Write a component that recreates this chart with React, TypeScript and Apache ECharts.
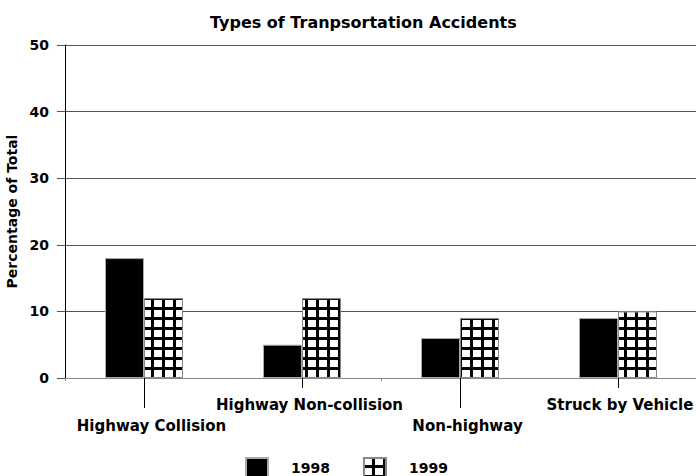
import React, { useEffect, useRef } from "react";
import * as echarts from "echarts";

const categories = ["Highway Collision", "Highway Non-collision", "Non-highway", "Struck by Vehicle"];
const values1998 = [18, 5, 6, 9];
const values1999 = [12, 12, 9, 10];
const yTicks = { min: 0, max: 50, interval: 10 };

const FONT = "DejaVu Sans";

export default function App() {
  const ref = useRef<HTMLDivElement>(null);
  useEffect(() => {
    if (!ref.current) return;
    const chart = echarts.init(ref.current, undefined, { renderer: "svg" });
    const labelText = { fontFamily: FONT, fontWeight: "bold" as const, fontSize: 15, color: "#000" };
    const labelStyle = {
      ...labelText,
      formatter: (v: string, i: number) => (i === categories.length - 1 ? `{b|${v}}` : `{a|${v}}`),
      rich: {
        a: { ...labelText, padding: [0, 0, 0, 15] },
        b: { ...labelText, padding: [0, 0, 0, 4] },
      },
    };
    chart.setOption({
      animation: false,
      backgroundColor: "#fff",
      textStyle: { fontFamily: FONT },
      title: {
        text: "Types of Tranpsortation Accidents",
        left: 210,
        top: 14,
        padding: 0,
        textStyle: { fontFamily: FONT, fontWeight: "bold", fontSize: 16, color: "#000" },
      },
      legend: {
        left: 245,
        top: 457,
        padding: 0,
        itemWidth: 22,
        itemHeight: 20,
        itemGap: 33,
        icon: "rect",
        textStyle: { fontFamily: FONT, fontWeight: "bold", fontSize: 14, color: "#000", padding: [0, 0, 0, 18] },
        data: ["1998", "1999"],
      },
      grid: { left: 65, top: 45, width: 632, height: 333, containLabel: false, outerBoundsMode: "none" },
      xAxis: [
        {
          type: "category",
          data: categories,
          position: "bottom",
          axisLine: { show: true, lineStyle: { color: "#888", width: 1 } },
          axisTick: { show: true, length: 3, lineStyle: { color: "#888" } },
          axisLabel: { show: false },
        },
        {
          type: "category",
          data: categories,
          position: "bottom",
          axisLine: { show: false },
          axisTick: {
            show: true,
            alignWithLabel: true,
            length: 30,
            interval: (i: number) => i % 2 === 0,
            lineStyle: { color: "#000" },
          },
          axisLabel: { ...labelStyle, interval: (i: number) => i % 2 === 0, margin: 40 },
        },
        {
          type: "category",
          data: categories,
          position: "bottom",
          axisLine: { show: false },
          axisTick: {
            show: true,
            alignWithLabel: true,
            length: 10,
            interval: (i: number) => i % 2 === 1,
            lineStyle: { color: "#000" },
          },
          axisLabel: { ...labelStyle, interval: (i: number) => i % 2 === 1, margin: 19 },
        },
      ],
      yAxis: {
        type: "value",
        min: yTicks.min,
        max: yTicks.max,
        interval: yTicks.interval,
        name: "Percentage of Total",
        nameLocation: "middle",
        nameRotate: 90,
        nameGap: 42,
        nameTextStyle: { fontFamily: FONT, fontWeight: "bold", fontSize: 14, color: "#000" },
        axisLine: { show: true, lineStyle: { color: "#000", width: 1 } },
        axisTick: { show: true, length: 8, lineStyle: { color: "#555" } },
        axisLabel: { fontFamily: FONT, fontWeight: "bold", fontSize: 14, color: "#000", margin: 16 },
        splitLine: { show: true, lineStyle: { color: "#555", width: 1 } },
      },
      series: [
        {
          name: "1998",
          type: "bar",
          data: values1998,
          barWidth: 39,
          barGap: "0%",
          itemStyle: { color: "#000", borderColor: "#aaa", borderWidth: 1 },
        },
        {
          name: "1999",
          type: "bar",
          data: values1999,
          barWidth: 39,
          barGap: "0%",
          itemStyle: {
            color: "#000",
            borderColor: "#888",
            borderWidth: 1,
            decal: {
              symbol: "rect",
              symbolSize: 1,
              color: "#fff",
              dashArrayX: [8, 3],
              dashArrayY: [7, 3],
              rotation: 0,
            },
          },
        },
      ],
    });
    return () => chart.dispose();
  }, []);
  return <div ref={ref} style={{ position: "fixed", left: 0, top: 0, width: 696, height: 476 }} />;
}
